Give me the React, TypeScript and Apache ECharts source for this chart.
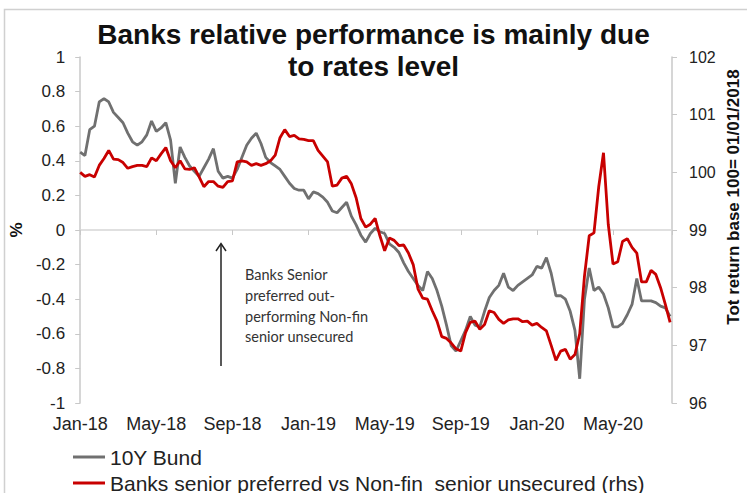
import React, { useEffect, useRef } from 'react';
import * as echarts from 'echarts';

// x positions: month offsets from Jan-2018, one point every quarter month
const STEP_MONTHS = 0.25;
const X_MAX_MONTHS = 31.1;
const monthLabels = ['Jan-18', 'May-18', 'Sep-18', 'Jan-19', 'May-19', 'Sep-19', 'Jan-20', 'May-20'];
const leftTicks = { min: -1, max: 1, interval: 0.2 };
const rightTicks = { min: 96, max: 102, interval: 1 };

const bundSeriesName = '10Y Bund';
const banksSeriesName = 'Banks senior preferred vs Non-fin  senior unsecured (rhs)';

const bund = [
  0.45, 0.43, 0.58, 0.60, 0.74, 0.76, 0.74, 0.68, 0.65, 0.62,
  0.56, 0.51, 0.49, 0.51, 0.55, 0.63, 0.57, 0.59, 0.62, 0.52,
  0.27, 0.48, 0.42, 0.37, 0.34, 0.31, 0.36, 0.41, 0.47, 0.34,
  0.30, 0.31, 0.30, 0.35, 0.42, 0.49, 0.53, 0.56, 0.50, 0.42,
  0.39, 0.37, 0.35, 0.31, 0.27, 0.24, 0.23, 0.23, 0.18, 0.22,
  0.21, 0.19, 0.16, 0.11, 0.10, 0.13, 0.16, 0.08, 0.03, -0.03,
  -0.07, -0.02, 0.01, -0.01, -0.02, -0.08, -0.10, -0.13, -0.19, -0.24,
  -0.28, -0.32, -0.35, -0.24, -0.28, -0.35, -0.44, -0.55, -0.67, -0.70,
  -0.64, -0.58, -0.50, -0.55, -0.56, -0.47, -0.39, -0.35, -0.32, -0.25,
  -0.33, -0.35, -0.32, -0.30, -0.28, -0.26, -0.21, -0.22, -0.16, -0.25,
  -0.38, -0.38, -0.40, -0.47, -0.58, -0.86, -0.40, -0.22, -0.35, -0.33,
  -0.37, -0.45, -0.56, -0.56, -0.54, -0.49, -0.43, -0.28, -0.41, -0.41,
  -0.41, -0.42, -0.44, -0.45, -0.50,
];

const banks = [
  100.00, 99.93, 99.96, 99.92, 100.12, 100.24, 100.38, 100.23, 100.22, 100.17,
  100.07, 100.10, 100.12, 100.12, 100.10, 100.25, 100.20, 100.32, 100.43, 100.20,
  100.08, 100.20, 100.06, 100.05, 100.08, 99.92, 99.75, 99.84, 99.84, 99.76,
  99.74, 99.84, 99.85, 100.18, 100.20, 100.18, 100.12, 100.15, 100.12, 100.15,
  100.20, 100.30, 100.60, 100.74, 100.62, 100.64, 100.58, 100.57, 100.55, 100.55,
  100.38, 100.28, 100.18, 99.76, 99.78, 99.90, 99.93, 99.80, 99.56, 99.20,
  99.05, 99.10, 99.20, 98.90, 98.64, 98.86, 98.82, 98.73, 98.74, 98.60,
  98.40, 97.98, 97.82, 97.80, 97.60, 97.42, 97.15, 97.12, 97.04, 96.94,
  96.90, 97.22, 97.40, 97.42, 97.28, 97.36, 97.60, 97.57, 97.45, 97.38,
  97.44, 97.46, 97.46, 97.41, 97.42, 97.35, 97.38, 97.31, 97.25, 97.00,
  96.74, 96.90, 96.93, 96.76, 96.84, 97.20, 98.20, 98.90, 98.95, 99.75,
  100.34, 99.10, 98.41, 98.45, 98.80, 98.85, 98.70, 98.60, 98.10, 98.10,
  98.30, 98.23, 98.00, 97.71, 97.40,
];

const titleText = 'Banks relative performance is mainly due\nto rates level';
const noteText = 'Banks Senior\npreferred out-\nperforming Non-fin\nsenior unsecured';
const rightAxisName = 'Tot return base 100= 01/01/2018';

const FONT = '"Liberation Sans", Arial, sans-serif';

export default function App() {
  const ref = useRef<HTMLDivElement>(null);
  useEffect(() => {
    document.body.style.margin = '0';
    const chart = echarts.init(ref.current as HTMLDivElement, null, { renderer: 'svg' });
    const bundData = bund.map((v, i) => [i * STEP_MONTHS, v]);
    const banksData = banks.map((v, i) => [i * STEP_MONTHS, v]);
    const axisGray = '#c8c8c8';
    const legendBase = {
      orient: 'horizontal',
      left: 73,
      padding: 0,
      itemWidth: 32,
      itemHeight: 3,
      icon: 'rect',
      textStyle: { fontFamily: FONT, fontSize: 21, lineHeight: 22, color: '#222' },
    };
    chart.setOption({
      animation: false,
      backgroundColor: '#ffffff',
      title: {
        text: titleText,
        left: 'center',
        top: 13,
        textStyle: { fontFamily: FONT, fontSize: 28, fontWeight: 'bold', color: '#111', lineHeight: 32 },
      },
      grid: { left: 70, right: 75, top: 57, bottom: 90, containLabel: false },
      legend: [
        { ...legendBase, top: 446, data: [bundSeriesName] },
        { ...legendBase, top: 472, data: [banksSeriesName] },
      ],
      xAxis: [
        {
          type: 'value',
          min: 0,
          max: X_MAX_MONTHS,
          interval: 4,
          axisLine: { show: false, onZero: false },
          axisTick: { show: false },
          splitLine: { show: false },
          axisLabel: {
            margin: 12,
            fontFamily: FONT,
            fontSize: 18,
            color: '#222',
            showMaxLabel: false,
            formatter: (v: number) => {
              const k = Math.round(v / 4);
              return Math.abs(v - k * 4) < 1e-6 && monthLabels[k] ? monthLabels[k] : '';
            },
          },
        },
        {
          type: 'value',
          min: 0,
          max: X_MAX_MONTHS,
          interval: 4,
          position: 'bottom',
          axisLine: { show: true, onZero: true, onZeroAxisIndex: 0, lineStyle: { color: '#d6d6d6', width: 1.5 } },
          axisTick: { show: true, inside: false, length: 5, lineStyle: { color: '#c8c8c8' } },
          axisLabel: { show: false },
          splitLine: { show: false },
        },
      ],
      yAxis: [
        {
          type: 'value',
          ...leftTicks,
          position: 'left',
          name: '%',
          nameLocation: 'middle',
          nameGap: 50,
          nameRotate: 90,
          nameTextStyle: { fontFamily: FONT, fontSize: 17, fontWeight: 'bold', color: '#111' },
          axisLine: { show: true, onZero: false, lineStyle: { color: axisGray, width: 1.5 } },
          axisTick: { show: true, length: 5, lineStyle: { color: axisGray } },
          splitLine: { show: false },
          axisLabel: { margin: 15, fontFamily: FONT, fontSize: 17, color: '#222' },
        },
        {
          type: 'value',
          ...rightTicks,
          position: 'right',
          axisLine: { show: true, onZero: false, lineStyle: { color: axisGray, width: 1.5 } },
          axisTick: { show: true, length: 5, lineStyle: { color: axisGray } },
          splitLine: { show: false },
          axisLabel: { margin: 17, fontFamily: FONT, fontSize: 16, color: '#222' },
        },
      ],
      graphic: [
        {
          type: 'rect',
          shape: { x: 4.5, y: 9.5, width: 800, height: 600 },
          style: { fill: 'none', stroke: '#d0d0d0', lineWidth: 1.5 },
          silent: true,
        },
        {
          type: 'text',
          x: 733,
          y: 197,
          rotation: Math.PI / 2,
          style: {
            text: rightAxisName,
            align: 'center',
            verticalAlign: 'middle',
            fontFamily: FONT,
            fontSize: 17,
            fontWeight: 'bold',
            fill: '#111',
          },
        },
        {
          type: 'line',
          shape: { x1: 221, y1: 366, x2: 221, y2: 244 },
          style: { stroke: '#222', lineWidth: 1.5 },
        },
        {
          type: 'polyline',
          shape: { points: [[216, 251], [221, 243.5], [226, 251]] },
          style: { stroke: '#222', lineWidth: 1.5, fill: 'none' },
        },
        {
          type: 'text',
          x: 245,
          y: 264.5,
          style: {
            text: noteText,
            fontFamily: 'Lato, "Open Sans", sans-serif',
            fontSize: 14.5,
            lineHeight: 20.7,
            fill: '#333',
            align: 'left',
            verticalAlign: 'top',
          },
        },
      ],
      series: [
        {
          name: bundSeriesName,
          type: 'line',
          xAxisIndex: 0,
          yAxisIndex: 0,
          data: bundData,
          showSymbol: false,
          lineStyle: { color: '#707070', width: 2.8 },
          itemStyle: { color: '#707070' },
          z: 2,
        },
        {
          name: banksSeriesName,
          type: 'line',
          xAxisIndex: 0,
          yAxisIndex: 1,
          data: banksData,
          showSymbol: false,
          lineStyle: { color: '#c80000', width: 2.8 },
          itemStyle: { color: '#c80000' },
          z: 3,
        },
      ],
    });
    return () => chart.dispose();
  }, []);
  return (
    <div
      ref={ref}
      style={{ position: 'absolute', left: 0, top: 0, width: 747, height: 493, background: '#fff' }}
    />
  );
}
